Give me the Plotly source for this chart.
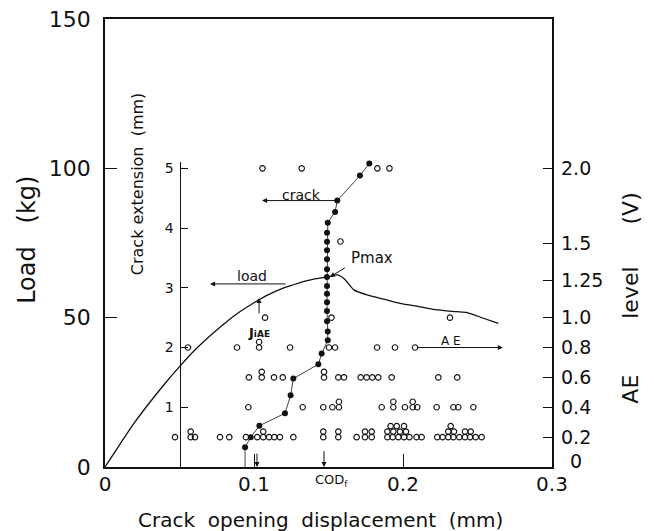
import plotly.graph_objects as go

# ---------------- data ----------------
# Load vs crack opening displacement (COD)
load_cod = [0, 0.01, 0.02, 0.03, 0.04, 0.05, 0.06, 0.07, 0.08, 0.09, 0.10, 0.11, 0.12,
            0.13, 0.14, 0.15, 0.156, 0.161, 0.167, 0.176, 0.187, 0.198, 0.21, 0.22,
            0.236, 0.243, 0.254, 0.264]
load_kg = [0, 7.6, 15, 21.6, 27.8, 33.6, 39, 43.7, 48, 51.8, 55, 57.8, 60,
           61.6, 62.9, 63.7, 64.3, 62.8, 59.3, 57.6, 56.2, 54.8, 53.8, 52.8,
           52, 51.7, 49.8, 48.1]

# Crack extension (mm) vs COD (filled dots)
crack_cod = [0.094, 0.094, 0.0978, 0.1036, 0.1208, 0.1246, 0.1264, 0.1432, 0.1454,
             0.1495, 0.1495, 0.149, 0.149, 0.149, 0.149, 0.149, 0.149, 0.149, 0.149,
             0.149, 0.149, 0.149, 0.1495, 0.1544, 0.1559, 0.1711, 0.1774]
crack_mm = [0, 0.33, 0.50, 0.69, 0.90, 1.20, 1.48, 1.72, 1.90,
            2.12, 2.27, 2.44, 2.61, 2.76, 2.90, 3.03, 3.18, 3.31, 3.48,
            3.63, 3.77, 3.92, 4.09, 4.27, 4.46, 4.88, 5.08]

# AE events (open circles): COD and AE level (V); stacked circles read as small offsets
ae_cod = [
    # 0.2 V row
    0.047, 0.0575, 0.0604, 0.0772, 0.0834, 0.0946, 0.1022, 0.1062, 0.1101, 0.1136, 0.1174,
    0.1264, 0.1465, 0.1566, 0.1689, 0.1745, 0.179, 0.1895, 0.1931, 0.1969, 0.2007, 0.2043,
    0.2091, 0.2125, 0.2230, 0.2266, 0.2304, 0.2338, 0.2378, 0.2416, 0.245, 0.2488, 0.2528,
    0.0575, 0.1062, 0.1465, 0.1566, 0.1745, 0.179, 0.1895, 0.1935, 0.198, 0.2020, 0.2304,
    0.2342, 0.2416, 0.2454,
    0.1917, 0.1958, 0.2007, 0.2320,
    # 0.4 V row
    0.0962, 0.1327, 0.1465, 0.1526, 0.157, 0.1857, 0.1935, 0.2013, 0.2065, 0.2096, 0.2226,
    0.2338, 0.2371, 0.2472,
    0.157, 0.1935, 0.2065,
    # 0.6 V row
    0.0966, 0.1052, 0.1134, 0.1193, 0.147, 0.1566, 0.1604, 0.1716, 0.1756, 0.1794, 0.1834,
    0.1924, 0.2237, 0.2364,
    0.1052, 0.147,
    # 0.8 V row
    0.0557, 0.0886, 0.1034, 0.1242, 0.1503, 0.1544, 0.1826, 0.1946, 0.2081,
    0.1034,
    # 1.0 V row
    0.1074, 0.152, 0.2315,
    # 1.5 V
    0.158,
    # 2.0 V row
    0.1057, 0.132, 0.1828, 0.1909,
]
ae_level = (
    [0.2] * 33 + [0.237] * 14 + [0.274] * 4
    + [0.4] * 14 + [0.437] * 3
    + [0.6] * 14 + [0.637] * 2
    + [0.8] * 9 + [0.837]
    + [1.0] * 3
    + [1.51]
    + [2.0] * 4
)

x_ticks = [0, 0.1, 0.2, 0.3]
x_ticktext = ["0", "0.1", "0.2", "0.3"]
load_ticks = [0, 50, 100, 150]
ae_ticks = [0.2, 0.4, 0.6, 0.8, 1.0, 1.25, 1.5, 2.0]
ae_ticktext = ["0.2", "0.4", "0.6", "0.8", "1.0", "1.25", "1.5", "2.0"]
crack_ticks = [1, 2, 3, 4, 5]

FONT = "DejaVu Sans"
BLACK = "#111111"
NB = "\u00a0"

fig = go.Figure()

fig.add_trace(go.Scatter(x=load_cod, y=load_kg, mode="lines",
                         line=dict(color=BLACK, width=1.3, shape="spline", smoothing=0.6),
                         xaxis="x", yaxis="y", showlegend=False, hoverinfo="skip"))

fig.add_trace(go.Scatter(x=ae_cod, y=ae_level, mode="markers",
                         marker=dict(symbol="circle-open", size=5.5, color=BLACK,
                                     line=dict(width=1.1, color=BLACK)),
                         xaxis="x", yaxis="y2", showlegend=False, cliponaxis=False))

fig.add_trace(go.Scatter(x=crack_cod, y=crack_mm, mode="lines",
                         line=dict(color=BLACK, width=0.8),
                         xaxis="x", yaxis="y3", showlegend=False))
fig.add_trace(go.Scatter(x=crack_cod[1:], y=crack_mm[1:], mode="markers",
                         marker=dict(symbol="circle", size=6, color=BLACK),
                         xaxis="x", yaxis="y3", showlegend=False, cliponaxis=False))

arrow = dict(showarrow=True, arrowhead=2, arrowsize=1.0, arrowwidth=1.0,
             arrowcolor=BLACK, text="")


def label(x, y, text, size, xref="x", yref="y", angle=0):
    return dict(x=x, y=y, xref=xref, yref=yref, text=text, showarrow=False,
                xanchor="center", yanchor="middle", textangle=angle,
                font=dict(family=FONT, size=size, color=BLACK))


ann = [
    # crack arrow
    dict(x=0.1054, y=4.46, xref="x", yref="y3", ax=0.156, ay=4.46,
         axref="x", ayref="y3", **arrow),
    label(0.132, 4.55, "crack", 14, yref="y3"),
    # load arrow
    dict(x=0.0705, y=61.3, xref="x", yref="y", ax=0.1222, ay=61.3,
         axref="x", ayref="y", **arrow),
    label(0.0985, 63.8, "load", 14),
    # Pmax
    dict(x=0.151, y=63.6, xref="x", yref="y", ax=0.162, ay=67.0,
         axref="x", ayref="y", **arrow),
    label(0.1795, 70.0, "Pmax", 15),
    # AE arrow
    dict(x=0.267, y=0.8, xref="x", yref="y2", ax=0.2085, ay=0.8,
         axref="x", ayref="y2", **arrow),
    label(0.2322, 0.845, "A E", 12, yref="y2"),
    # JiAE
    dict(x=0.1034, y=56.6, xref="x", yref="y", ax=0.1034, ay=50.9,
         axref="x", ayref="y", **arrow),
    label(0.1034, 45.0, "<b>J<span style='font-size:9px'>iAE</span></b>", 13),
    # down arrows on the COD axis
    dict(x=0.102, y=0, xref="x", yref="y", ax=0.102, ay=5.0,
         axref="x", ayref="y", **arrow),
    dict(x=0.147, y=0, xref="x", yref="y", ax=0.147, ay=5.8,
         axref="x", ayref="y", **arrow),
    label(0.1523, -0.031, "COD<sub>f</sub>", 13, yref="paper"),
    # right-axis zero label
    label(1.0537, 0.0134, "0", 19, xref="paper", yref="paper"),
    # axis titles
    label(-0.1745, 0.507, "Load" + NB * 3 + "(kg)", 24, xref="paper", yref="paper", angle=-90),
    label(1.1767, 0.378, "AE" + NB * 8 + "level" + NB * 6 + "(V)", 22,
          xref="paper", yref="paper", angle=-90),
    label(0.0215, 94.7, "Crack extension" + NB * 2 + "(mm)", 16, angle=-90),
    label(0.4832, -0.118,
          "Crack" + NB * 2 + "opening" + NB * 2 + "displacement" + NB * 2 + "(mm)", 20,
          xref="paper", yref="paper"),
]

fig.update_layout(
    width=654, height=531, autosize=False,
    margin=dict(l=105, r=102, t=19, b=64),
    paper_bgcolor="white", plot_bgcolor="rgba(0,0,0,0)",
    font=dict(family=FONT, color=BLACK),
    annotations=ann,
    xaxis=dict(range=[0, 0.3], domain=[0, 1], anchor="y", automargin=False,
               tickvals=x_ticks, ticktext=x_ticktext,
               ticks="inside", ticklen=13, tickwidth=1.2, tickcolor=BLACK,
               showline=True, linecolor=BLACK, linewidth=1.5, mirror=True,
               showgrid=False, zeroline=False, ticklabelstandoff=-2,
               tickfont=dict(family=FONT, size=20, color=BLACK)),
    yaxis=dict(range=[0, 150], domain=[0, 1], anchor="x", automargin=False,
               tickvals=load_ticks, ticks="inside", ticklen=12, tickwidth=1.2, tickcolor=BLACK,
               showline=True, linecolor=BLACK, linewidth=1.5, mirror=True,
               showgrid=False, zeroline=False, ticklabelstandoff=8,
               tickfont=dict(family=FONT, size=22, color=BLACK)),
    yaxis2=dict(range=[0, 3], overlaying="y", side="right", anchor="x", automargin=False,
                tickvals=ae_ticks, ticktext=ae_ticktext,
                ticks="inside", ticklen=9, tickwidth=1.2, tickcolor=BLACK,
                showline=False, showgrid=False, zeroline=False, ticklabelstandoff=8,
                tickfont=dict(family=FONT, size=19, color=BLACK)),
    yaxis3=dict(range=[0, 5.1], domain=[0, 5.1 / 7.5], anchor="free", position=0.05 / 0.3,
                side="left", tickvals=crack_ticks, automargin=False,
                ticks="inside", ticklen=7, tickwidth=1.2, tickcolor=BLACK,
                showline=True, linecolor=BLACK, linewidth=1.3,
                showgrid=False, zeroline=False, ticklabelstandoff=3,
                tickfont=dict(family=FONT, size=14, color=BLACK)),
)

fig.write_html("out.html", config={"displayModeBar": False},
               post_script="document.body.style.margin='0';document.body.style.padding='0';")
